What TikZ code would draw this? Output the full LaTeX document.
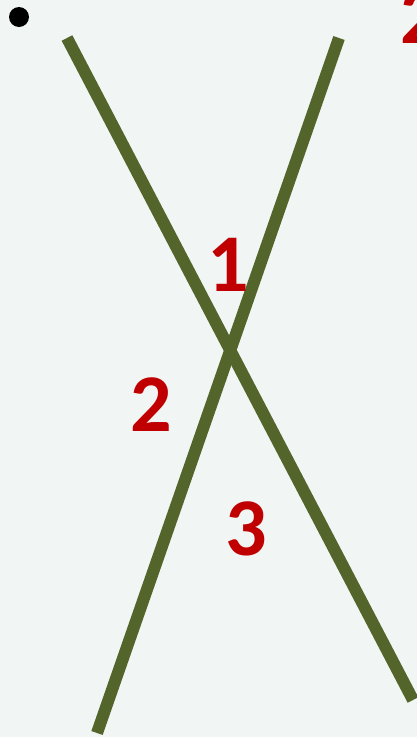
\documentclass[tikz,border=0pt]{standalone}
\usepackage{fontspec}
\setmainfont{Carlito}
\definecolor{bg}{HTML}{F1F6F4}
\definecolor{olive}{HTML}{53652B}
\definecolor{lblred}{HTML}{C00000}
\tikzset{
  ray/.style={draw=olive, line width=12pt},
  lbl/.style={text=lblred, inner sep=0pt, font=\fontsize{82}{82}\selectfont\bfseries},
}
\begin{document}
\begin{tikzpicture}[x=1pt,y=-1pt]
\useasboundingbox (0,0) rectangle (417,737);
\fill[bg] (0,0) rectangle (417,737);
\fill[black] (19,17) circle (10);
\coordinate (a1) at (67,38);
\coordinate (a2) at (413,700);
\coordinate (b1) at (339,38);
\coordinate (b2) at (97,733);
\draw[ray] (a1) -- (a2);
\draw[ray] (b1) -- (b2);
\node[lbl] (n1) at (228,265) {1};
\node[lbl] (n2) at (151,405) {2};
\node[lbl] (n3) at (246,529) {3};
\node[lbl] (n4) at (421,17) {2};
\end{tikzpicture}
\end{document}
